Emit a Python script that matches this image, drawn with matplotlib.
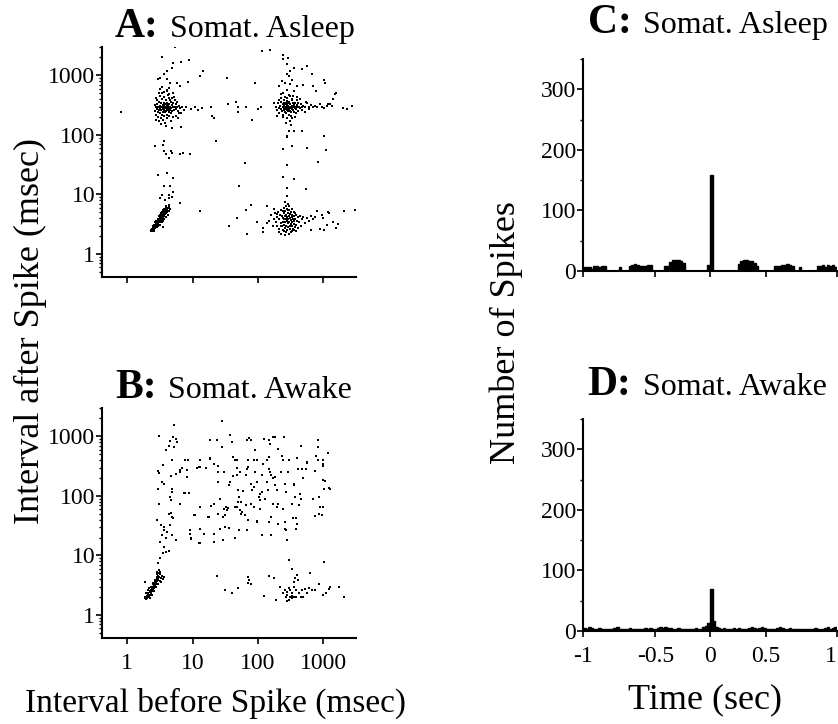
import numpy as np
import matplotlib
matplotlib.use("Agg")
import matplotlib.pyplot as plt
from matplotlib.ticker import LogLocator, FixedLocator, NullFormatter, MultipleLocator

plt.rcParams['font.family'] = ['Liberation Serif', 'DejaVu Serif']

# ---- panel A: somat. asleep, interval before vs after spike (msec) ----
asleep_burst = [(2.3, 2.4), (2.35, 2.5), (2.4, 2.45), (2.4, 2.6), (2.45, 2.55), (2.5, 2.7), (2.5, 2.5),
                (2.55, 2.8), (2.6, 2.6), (2.6, 2.9), (2.65, 2.75), (2.7, 3.0), (2.7, 2.8), (2.75, 3.2),
                (2.8, 2.9), (2.8, 3.3), (2.85, 3.1), (2.9, 3.5), (2.9, 3.0), (2.95, 3.3), (3.0, 3.6),
                (3.0, 3.2), (3.05, 3.9), (3.1, 3.4), (3.1, 3.7), (3.15, 4.1), (3.2, 3.5), (3.2, 3.9),
                (3.25, 4.3), (3.3, 3.7), (3.3, 4.0), (3.35, 4.5), (3.4, 3.9), (3.4, 4.2), (3.45, 4.7),
                (3.5, 4.0), (3.5, 4.4), (3.55, 4.9), (3.6, 4.3), (3.6, 4.6), (3.65, 5.1), (3.7, 4.5),
                (3.7, 4.8), (3.75, 5.3), (3.8, 4.7), (3.8, 5.0), (3.9, 5.5), (3.9, 4.9), (4.0, 5.2),
                (4.0, 5.7), (4.1, 5.0), (4.1, 5.5), (4.2, 5.9), (4.3, 5.3), (2.55, 3.1), (2.65, 3.4),
                (2.95, 3.9), (3.15, 4.6), (3.35, 5.0), (3.55, 5.4), (3.75, 5.8), (4.3, 6.2), (4.5, 5.8),
                (2.9, 2.8), (3.2, 3.1), (3.5, 3.6), (3.9, 4.2), (3.5, 2.8), (2.45, 2.9), (2.75, 3.6),
                (3.05, 4.4), (3.3, 4.9), (3.6, 5.6), (3.95, 6.1), (2.6, 2.4), (3.0, 2.9), (3.4, 3.4),
                (3.7, 3.9), (4.2, 4.6), (4.4, 6.6), (3.9, 6.4),
                (3.8, 8.1), (3.4, 9.9), (4.3, 8.7), (5.1, 11.2), (3.7, 13.6), (4.0, 23), (5.1, 19),
                (6.5, 7.1), (4.3, 9.9), (4.9, 9.2), (3.2, 8.7), (4.5, 14), (3.0, 21)]

asleep_tonic = [(2.7, 250), (2.8, 290), (2.8, 220), (2.9, 330), (2.9, 270), (3.0, 240), (3.0, 300),
                (3.0, 200), (3.1, 360), (3.1, 260), (3.2, 310), (3.2, 230), (3.2, 280), (3.3, 190),
                (3.3, 340), (3.3, 260), (3.4, 300), (3.4, 220), (3.4, 400), (3.5, 270), (3.5, 320),
                (3.5, 240), (3.5, 180), (3.6, 290), (3.6, 350), (3.6, 210), (3.7, 260), (3.7, 310),
                (3.7, 430), (3.8, 240), (3.8, 280), (3.8, 330), (3.8, 160), (3.9, 300), (3.9, 250),
                (3.9, 380), (4.0, 270), (4.0, 220), (4.0, 320), (4.1, 290), (4.1, 350), (4.1, 190),
                (4.2, 260), (4.2, 310), (4.2, 470), (4.3, 240), (4.3, 280), (4.4, 330), (4.4, 210),
                (4.5, 300), (4.5, 260), (4.6, 360), (4.6, 230), (4.7, 280), (4.8, 320), (4.8, 250),
                (4.9, 420), (5.0, 290), (5.0, 200), (5.1, 340), (5.2, 260), (5.3, 300), (5.4, 380),
                (5.5, 270), (5.6, 330), (5.8, 290), (6.0, 250), (6.2, 310), (6.5, 280), (6.8, 300),
                (3.6, 520), (4.0, 560), (4.4, 480), (3.3, 150), (3.9, 140), (4.6, 170), (5.5, 210),
                (2.9, 380), (3.2, 450), (5.0, 500), (7.5, 260), (8.0, 300), (9.5, 270), (11, 290),
                (12, 260), (14, 280), (4.8, 130), (6.2, 230), (4.3, 410), (3.1, 170), (2.65, 320),
                (2.75, 180), (3.45, 500), (4.5, 390), (5.2, 440), (5.8, 360), (3.2, 600), (2.8, 420),
                (6.6, 230), (5.9, 190),
                (3.0, 860), (3.2, 900), (3.6, 1050), (4.0, 1180), (4.8, 1340), (4.0, 860), (4.5, 755),
                (4.3, 620), (3.4, 640), (3.1, 510), (5.1, 1640), (5.7, 755), (6.5, 660), (4.0, 545),
                (5.4, 3000), (3.4, 2050), (8.7, 1790), (6.7, 1700), (14.4, 1180), (12.8, 980), (8.4, 780),
                (2.7, 64), (3.6, 78), (3.6, 53), (4.7, 53), (4.9, 50), (4.4, 41), (3.9, 47), (6.5, 47),
                (7.1, 50), (9.0, 48), (3.5, 67), (6.7, 137)]

asleep_late_tonic = [(190, 300), (200, 260), (205, 340), (210, 280), (215, 230), (220, 310), (225, 270),
                     (230, 360), (235, 250), (240, 290), (240, 330), (245, 220), (250, 280), (250, 310),
                     (255, 260), (255, 390), (260, 300), (260, 240), (265, 330), (265, 280), (270, 270),
                     (270, 350), (275, 300), (275, 230), (280, 260), (280, 320), (285, 290), (285, 410),
                     (290, 250), (290, 340), (295, 280), (295, 310), (300, 300), (300, 220), (305, 270),
                     (305, 360), (310, 290), (310, 250), (315, 330), (320, 280), (320, 300), (325, 240),
                     (330, 310), (330, 380), (335, 270), (340, 290), (345, 340), (350, 260), (355, 300),
                     (360, 320), (370, 280), (375, 350), (380, 300), (390, 270), (400, 320), (410, 290),
                     (420, 340), (430, 300), (440, 280), (460, 330), (480, 300), (500, 310), (530, 290),
                     (560, 340), (600, 300), (650, 320), (700, 290), (760, 310), (820, 300), (900, 330),
                     (960, 290), (1050, 280), (1150, 310), (1300, 330), (260, 430), (300, 460), (240, 200),
                     (280, 190), (320, 210), (230, 420), (350, 450), (310, 170), (270, 160), (420, 250),
                     (480, 260), (380, 230), (550, 360), (620, 270), (250, 350), (285, 370), (340, 400),
                     (360, 240), (400, 380), (215, 380), (200, 210), (225, 480), (370, 200), (450, 400),
                     (520, 240), (180, 350), (395, 440), (330, 190),
                     (247, 1860), (240, 2180), (288, 1950), (283, 1540), (310, 1180), (353, 1350),
                     (470, 1290), (560, 1440), (670, 1050), (283, 1050), (305, 980), (340, 850), (234, 800),
                     (264, 755), (310, 705), (400, 660), (208, 660), (283, 575), (353, 550), (247, 510),
                     (310, 447), (500, 680), (710, 660), (775, 550), (118, 2570), (155, 2630), (91, 740),
                     (305, 116), (277, 95), (283, 91), (353, 116), (470, 116), (318, 149), (247, 59),
                     (340, 65), (575, 61), (830, 35), (1100, 55), (1020, 95),
                     (2740, 312), (2040, 288), (2300, 270), (1520, 478), (1580, 510), (1050, 830),
                     (1070, 755), (1440, 395), (1200, 333), (1350, 304),
                     (0.8, 245), (19.5, 295), (20, 205), (21, 190), (23, 78), (35, 337), (47, 360),
                     (49, 290), (66, 296), (81, 177), (100, 277), (113, 296), (49, 245), (63, 34),
                     (33.6, 900)]

asleep_late_burst = [(190, 3.5), (195, 4.2), (200, 3.0), (205, 5.0), (210, 3.8), (215, 2.6), (220, 4.5),
                     (225, 3.3), (230, 5.5), (235, 2.9), (240, 4.0), (240, 3.5), (245, 2.5), (250, 4.8),
                     (250, 3.1), (255, 3.8), (255, 6.0), (260, 2.7), (260, 4.3), (265, 3.4), (265, 5.2),
                     (270, 2.3), (270, 3.9), (275, 4.6), (275, 3.0), (280, 3.6), (280, 5.8), (285, 2.5),
                     (285, 4.1), (290, 3.3), (290, 4.9), (295, 2.8), (295, 3.8), (300, 4.4), (300, 2.2),
                     (305, 3.5), (305, 5.4), (310, 3.0), (310, 4.0), (315, 2.6), (315, 4.7), (320, 3.7),
                     (320, 3.2), (325, 5.1), (330, 2.4), (330, 4.2), (335, 3.4), (340, 2.9), (340, 4.6),
                     (345, 3.8), (350, 2.6), (355, 4.3), (360, 3.2), (365, 5.0), (370, 2.8), (375, 3.9),
                     (380, 4.5), (390, 3.1), (400, 3.6), (410, 4.1), (420, 2.7), (430, 3.5), (440, 4.4),
                     (460, 3.0), (480, 3.8), (500, 4.2), (530, 3.3), (560, 4.0), (600, 3.6), (650, 4.4),
                     (700, 3.8), (760, 4.1), (820, 5.3), (900, 2.6), (950, 4.6), (1050, 2.5), (1150, 3.1),
                     (1250, 4.8), (1400, 3.4), (1600, 2.7), (1700, 3.2), (2100, 5.2), (150, 3.6),
                     (160, 4.5), (170, 2.9), (175, 5.6), (180, 3.9), (140, 3.3), (120, 2.7), (230, 2.2),
                     (300, 6.5), (260, 7.5), (280, 9.5), (290, 6.8), (320, 2.3), (250, 2.4), (270, 6.3),
                     (340, 5.7), (360, 2.5), (225, 2.9), (1200, 5.0), (1000, 4.0), (650, 2.5),
                     (210, 2.3), (235, 4.4), (265, 2.1), (295, 5.5), (325, 2.9), (355, 3.6), (245, 5.3),
                     (390, 2.4), (200, 4.7), (370, 4.9),
                     (51, 14), (66, 5.5), (48, 4.0), (68, 2.2), (36, 3.0), (78, 6.6), (96, 3.4),
                     (13, 5.3), (122, 2.3), (137, 6.5), (185, 4.9), (240, 20), (285, 31.6), (365, 18),
                     (285, 12.8), (550, 12.5), (3100, 5.4)]

# ---- panel B: somat. awake ----
awake_burst = [(1.85, 1.9), (1.9, 2.0), (1.95, 1.85), (2.0, 2.1), (2.0, 1.95), (2.05, 2.2), (2.1, 2.0),
               (2.1, 2.3), (2.15, 2.1), (2.2, 2.4), (2.2, 2.2), (2.25, 2.5), (2.3, 2.3), (2.3, 2.6),
               (2.35, 2.4), (2.4, 2.7), (2.4, 2.5), (2.45, 2.9), (2.5, 2.6), (2.5, 3.0), (2.55, 2.8),
               (2.6, 3.2), (2.6, 2.9), (2.65, 3.4), (2.7, 3.1), (2.7, 3.6), (2.75, 3.3), (2.8, 3.8),
               (2.8, 3.5), (2.85, 4.0), (2.9, 3.7), (2.9, 4.3), (2.95, 3.9), (3.0, 4.6), (3.0, 4.1),
               (3.05, 5.0), (3.1, 4.4), (3.15, 5.3), (3.2, 4.8), (3.3, 4.2), (3.4, 4.5), (3.5, 4.0),
               (2.1, 2.6), (2.3, 2.9), (2.5, 3.4), (2.7, 3.9), (2.9, 4.8), (2.2, 1.95), (2.4, 2.15),
               (2.6, 2.5), (2.8, 2.9), (3.0, 3.3), (3.2, 3.7), (1.95, 2.3), (2.15, 2.8), (2.45, 3.3),
               (2.65, 3.8), (2.85, 5.2), (3.05, 5.6), (3.3, 3.6), (3.6, 4.3), (1.9, 3.6),
               (3.0, 7.4), (3.2, 8.9), (3.5, 11), (3.9, 11.5), (4.3, 12), (3.6, 14), (3.2, 17),
               (3.9, 20), (3.4, 22), (2.85, 40), (3.3, 33), (3.7, 27), (4.5, 32), (4.8, 44), (4.3, 50),
               (4.7, 52), (5.1, 42), (5.6, 18), (4.8, 22), (4.0, 25), (3.6, 30)]

awake_tonic = [(3.1, 74), (3.0, 133), (3.4, 170), (3.6, 160), (3.0, 265), (3.1, 245), (3.5, 325),
               (4.8, 133), (4.9, 117), (4.5, 97), (4.7, 85), (4.7, 220), (4.9, 395), (5.2, 660),
               (5.6, 900), (5.2, 1530), (5.1, 970), (5.8, 790), (4.5, 850), (4.4, 700), (3.1, 1010),
               (3.9, 580), (5.6, 235), (6.5, 270), (7.0, 300), (7.7, 395), (8.2, 210), (6.4, 74),
               (7.7, 110), (8.7, 110), (9.0, 23), (9.4, 19), (8.5, 395),
               (10.7, 48), (12.6, 16), (13, 65), (12.8, 310), (11.7, 300), (13, 395), (15, 23),
               (18.7, 860), (18.7, 420), (17.6, 45), (19, 67), (21, 74), (21, 17), (24, 860), (25, 320),
               (25, 170), (26, 90), (26, 28), (28, 660), (28.5, 1820), (30, 250), (30, 61), (29, 44),
               (31, 30), (33, 65), (34, 57), (38, 1060), (40, 790), (42, 450), (44, 400), (48, 395),
               (48, 300), (48, 225), (50, 125), (50, 78), (48, 65), (55, 80), (58, 53), (55, 50),
               (64, 48), (66, 225), (68, 285), (72, 395), (68, 860), (74, 950), (80, 860), (91, 580),
               (86, 395), (91, 250), (80, 160), (86, 140), (79, 74), (86, 65), (98, 37), (106, 97),
               (109, 85), (115, 117), (115, 225), (122, 345), (137, 395), (146, 450), (150, 285),
               (155, 750), (146, 860), (170, 970), (185, 970), (161, 225), (170, 200), (185, 150),
               (195, 125), (170, 74), (195, 65), (207, 34), (161, 44), (161, 22), (146, 37), (207, 620),
               (235, 470), (247, 395), (255, 970), (265, 160), (270, 117), (247, 61), (265, 37),
               (272, 27), (280, 18), (295, 250), (305, 395), (330, 74), (353, 150), (365, 160),
               (390, 42), (400, 34), (390, 28), (400, 440), (450, 108), (460, 90), (470, 285),
               (460, 680), (550, 285), (560, 370), (740, 265), (780, 470), (830, 860), (850, 660),
               (870, 97), (870, 50), (1000, 395), (1000, 320), (1070, 180), (1040, 133), (1270, 133),
               (1200, 530), (990, 65), (60, 120), (36, 150), (110, 60), (230, 250), (16, 300),
               (70, 40), (125, 900), (500, 200),
               (850, 405), (990, 338), (565, 355), (415, 286), (1010, 183), (1220, 137), (900, 65),
               (950, 47), (755, 46), (710, 90), (435, 70), (262, 28), (350, 42), (370, 96), (207, 74),
               (158, 44), (97, 38), (115, 22), (68, 27), (51, 27), (36, 29), (29, 18), (45, 20),
               (12.8, 16.2), (9.2, 27), (9.5, 20), (13, 28), (11, 47), (17, 44), (21, 23), (25, 50),
               (32, 47), (35, 63), (45, 65), (54, 57), (66, 70), (51, 96), (81, 124), (97, 171),
               (108, 109), (130, 90), (145, 124), (138, 171), (185, 208), (155, 250), (122, 347),
               (97, 395), (72, 305), (54, 250), (41, 220), (37, 171), (25, 250), (21, 347),
               (18.6, 435), (12.4, 305), (8.4, 395), (8.2, 270), (6.5, 250), (8.7, 112), (7.5, 112),
               (6.5, 74)]

awake_late_burst = [(24, 4.5), (31.7, 2.6), (40, 2.3), (50, 2.8), (72, 4.4), (74, 3.9), (78, 3.3),
                    (72, 3.4), (126, 2.1), (150, 4.5), (180, 4.1), (190, 1.8), (220, 3.0), (240, 2.3),
                    (260, 2.6), (285, 2.2), (300, 8.3), (317, 2.6), (330, 2.3), (340, 2.1), (353, 2.0),
                    (365, 3.0), (375, 4.1), (340, 6.0), (385, 2.0), (390, 2.6), (405, 4.7), (420, 3.9),
                    (430, 2.3), (455, 2.0), (470, 2.6), (490, 2.0), (520, 2.7), (560, 2.3), (600, 2.8),
                    (635, 5.0), (670, 2.6), (760, 2.6), (880, 3.3), (990, 2.2), (1030, 7.8), (1110, 2.3),
                    (1220, 2.7), (1300, 2.9), (1770, 3.0), (2100, 2.0), (277, 1.7), (300, 1.8), (310, 2.0),
                    (270, 2.0), (330, 1.9), (285, 2.4), (305, 2.8), (353, 3.6)]

# ---- panels C/D: cross-correlation histograms, 20 ms bins from -1 to 1 sec ----
bin_width = 0.02
asleep_counts = [7, 7, 6, 4, 9, 8, 6, 9, 8, 0, 0, 0, 0, 0, 7, 0, 0, 0, 9, 10,
                 11, 10, 9, 9, 9, 10, 10, 0, 0, 0, 0, 0, 8, 9, 15, 18, 18, 18, 16, 14,
                 0, 0, 0, 0, 0, 0, 0, 0, 0, 10, 158, 0, 0, 0, 0, 0, 0, 0, 0, 0,
                 0, 12, 17, 18, 18, 17, 16, 14, 8, 0, 0, 0, 0, 0, 0, 8, 9, 9, 10, 10,
                 11, 10, 8, 0, 0, 7, 0, 0, 0, 0, 0, 0, 8, 9, 10, 6, 10, 9, 10, 7]
awake_counts = [5, 4, 6, 5, 4, 4, 5, 4, 3, 4, 4, 3, 5, 6, 4, 3, 4, 4, 5, 3,
                4, 4, 3, 4, 5, 4, 5, 4, 4, 5, 6, 5, 6, 5, 5, 4, 4, 5, 4, 3,
                4, 4, 3, 4, 5, 4, 4, 6, 8, 14, 70, 16, 6, 5, 4, 5, 4, 4, 4, 5,
                4, 5, 4, 3, 4, 5, 6, 5, 4, 5, 6, 5, 4, 4, 3, 4, 5, 6, 5, 4,
                4, 5, 4, 4, 3, 4, 4, 4, 3, 4, 4, 5, 4, 3, 4, 5, 6, 4, 5, 6]

time_ticks = [-1, -0.43, 0, 0.44, 1]
time_labels = ['-1', '-0.5', '0', '0.5', '1']
log_ticks = [1, 10, 100, 1000]

W, H = 838, 724
fig = plt.figure(figsize=(W / 100, H / 100), dpi=100)


def box(l, t, r, b):
    return [l / W, 1 - b / H, (r - l) / W, (b - t) / H]


axA = fig.add_axes(box(102, 47, 356, 277))
axB = fig.add_axes(box(102, 408, 356, 638))
axC = fig.add_axes(box(583, 59, 837, 271))
axD = fig.add_axes(box(583, 419, 837, 631))


def style(ax):
    for s in ['top', 'right']:
        ax.spines[s].set_visible(False)
    for s in ['left', 'bottom']:
        ax.spines[s].set_linewidth(1.5)
    ax.tick_params(which='major', direction='out', length=4, width=1.2, labelsize=17, pad=1)
    ax.tick_params(which='minor', direction='out', length=2.5, width=1.0)


for ax, groups in [(axA, [asleep_burst, asleep_tonic, asleep_late_tonic, asleep_late_burst]),
                   (axB, [awake_burst, awake_tonic, awake_late_burst])]:
    pts = np.array([p for g in groups for p in g])
    ax.scatter(pts[:, 0], pts[:, 1], s=4, marker='s', color='black', linewidths=0)
    ax.set_xscale('log')
    ax.set_yscale('log')
    ax.set_xlim(0.41, 3200)
    ax.set_ylim(0.41, 3000)
    style(ax)
    ax.xaxis.set_major_locator(FixedLocator(log_ticks))
    ax.yaxis.set_major_locator(FixedLocator(log_ticks))
    ax.xaxis.set_minor_locator(LogLocator(base=10, subs=np.arange(2, 10)))
    ax.yaxis.set_minor_locator(LogLocator(base=10, subs=np.arange(2, 10)))
    ax.xaxis.set_minor_formatter(NullFormatter())
    ax.yaxis.set_minor_formatter(NullFormatter())
    ax.set_yticklabels([str(t) for t in log_ticks])
    ax.set_xticklabels([str(t) for t in log_ticks])
    ax.tick_params(axis='x', pad=7)

axA.tick_params(axis='x', labelbottom=False)

for ax, counts in [(axC, asleep_counts), (axD, awake_counts)]:
    edges = -1 + bin_width * np.arange(len(counts) + 1)
    ax.stairs(counts, edges, fill=True, facecolor='black', edgecolor='black', linewidth=1.0)
    ax.set_xlim(-1, 1)
    ax.set_ylim(0, 350)
    style(ax)
    ax.yaxis.set_major_locator(MultipleLocator(100))
    ax.yaxis.set_minor_locator(MultipleLocator(50))
    ax.xaxis.set_major_locator(FixedLocator(time_ticks))
    ax.set_xticklabels(time_labels)
    ax.tick_params(axis='x', pad=7)

axC.tick_params(axis='x', labelbottom=False)
# keep the last time label inside the figure edge
axD.get_xticklabels()[-1].set_horizontalalignment('right')

# panel titles
titles = [(115, 37, 'A:', 170, 'Somat. Asleep'),
          (115, 398, 'B:', 168, 'Somat. Awake'),
          (588, 33, 'C:', 643, 'Somat. Asleep'),
          (587, 395, 'D:', 643, 'Somat. Awake')]
for xl, yb, letter, xt, name in titles:
    fig.text(xl / W, 1 - yb / H, letter, fontsize=30, fontweight='bold', va='baseline', ha='left')
    fig.text(xt / W, 1 - yb / H, name, fontsize=23, va='baseline', ha='left')

fig.text(30 / W, 1 - 331 / H, 'Interval after Spike (msec)', fontsize=26, rotation=90,
         va='center', ha='center')
fig.text(506 / W, 1 - 333 / H, 'Number of Spikes', fontsize=26, rotation=90,
         va='center', ha='center')
fig.text(215 / W, 1 - 703 / H, 'Interval before Spike (msec)', fontsize=24, va='center', ha='center')
fig.text(705 / W, 1 - 700 / H, 'Time (sec)', fontsize=26, va='center', ha='center')

fig.savefig('out.png', dpi=100)
